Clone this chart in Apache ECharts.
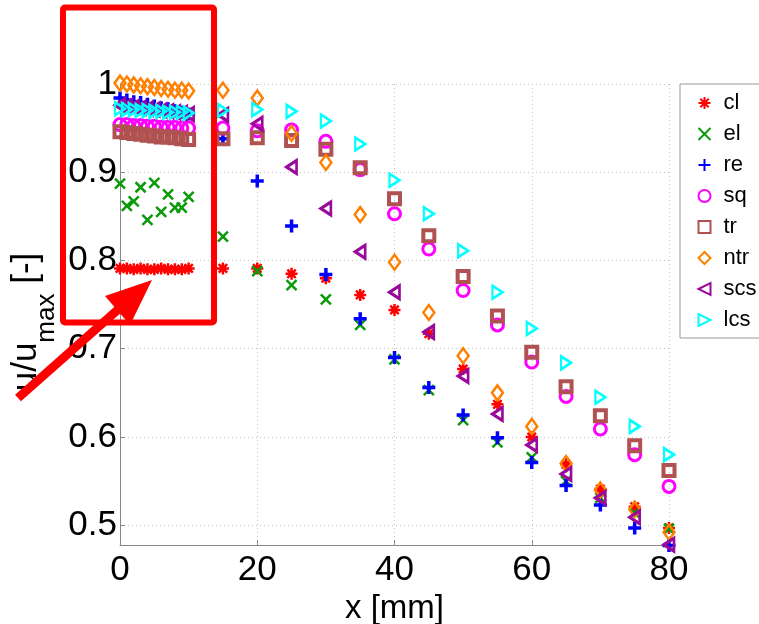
<!DOCTYPE html>
<html>
<head>
<meta charset="utf-8">
<script src="https://cdn.jsdelivr.net/npm/echarts@6/dist/echarts.min.js"></script>
<style>
    html, body { margin: 0; padding: 0; background: #fff; }
    #main { width: 759px; height: 624px; }
</style>
</head>
<body>
<div id="main"></div>
<script>
// x positions [mm]
var xs = [0, 1, 2, 3, 4, 5, 6, 7, 8, 9, 10, 15, 20, 25, 30, 35, 40, 45, 50, 55, 60, 65, 70, 75, 80];

// u/umax per profile
var cl  = [0.791, 0.791, 0.790, 0.791, 0.790, 0.790, 0.791, 0.790, 0.790, 0.790, 0.791, 0.791, 0.791, 0.785, 0.780, 0.761, 0.744, 0.717, 0.677, 0.637, 0.600, 0.569, 0.541, 0.521, 0.497];
var el  = [0.887, 0.862, 0.867, 0.883, 0.846, 0.888, 0.855, 0.875, 0.860, 0.860, 0.872, 0.827, 0.788, 0.772, 0.756, 0.727, 0.688, 0.653, 0.619, 0.594, 0.577, 0.550, 0.531, 0.514, 0.496];
var re  = [0.984, 0.982, 0.980, 0.979, 0.977, 0.975, 0.973, 0.972, 0.970, 0.968, 0.966, 0.938, 0.890, 0.839, 0.784, 0.734, 0.690, 0.656, 0.625, 0.599, 0.571, 0.545, 0.523, 0.497, 0.477];
var sq  = [0.954, 0.954, 0.953, 0.953, 0.952, 0.952, 0.951, 0.951, 0.951, 0.950, 0.950, 0.950, 0.947, 0.948, 0.935, 0.903, 0.853, 0.813, 0.766, 0.727, 0.685, 0.646, 0.609, 0.580, 0.544];
var tr  = [0.946, 0.945, 0.944, 0.943, 0.942, 0.941, 0.940, 0.940, 0.939, 0.938, 0.937, 0.938, 0.939, 0.936, 0.926, 0.905, 0.870, 0.828, 0.782, 0.737, 0.696, 0.657, 0.624, 0.590, 0.562];
var ntr = [1.001, 1.000, 0.999, 0.998, 0.997, 0.996, 0.995, 0.994, 0.993, 0.993, 0.992, 0.993, 0.984, 0.944, 0.911, 0.852, 0.798, 0.741, 0.692, 0.650, 0.612, 0.570, 0.540, 0.518, 0.492];
var scs = [0.976, 0.975, 0.974, 0.973, 0.972, 0.971, 0.970, 0.969, 0.968, 0.967, 0.966, 0.965, 0.955, 0.906, 0.859, 0.810, 0.764, 0.719, 0.669, 0.626, 0.591, 0.558, 0.531, 0.509, 0.478];
var lcs = [0.972, 0.971, 0.971, 0.970, 0.970, 0.969, 0.969, 0.968, 0.968, 0.968, 0.967, 0.970, 0.971, 0.969, 0.958, 0.932, 0.891, 0.853, 0.811, 0.764, 0.723, 0.684, 0.645, 0.612, 0.580];

var yTicks = [0.5, 0.6, 0.7, 0.8, 0.9, 1];

var FONT = 'Liberation Sans, Arial, sans-serif';

// marker shapes (matlab style)
var SYM_STAR  = 'path://M0,5L10,5M5,0L5,10M1.5,1.5L8.5,8.5M1.5,8.5L8.5,1.5';
var SYM_X     = 'path://M0,0L10,10M0,10L10,0';
var SYM_PLUS  = 'path://M5,0L5,10M0,5L10,5';
var SYM_TRI_L = 'path://M0,5L10,0L10,10Z';
var SYM_TRI_R = 'path://M10,5L0,0L0,10Z';

function mk(name, vals, symbol, size, color, bw) {
    return {
        name: name,
        type: 'scatter',
        clip: false,
        symbol: symbol,
        symbolSize: size,
        itemStyle: { color: 'none', borderColor: color, borderWidth: bw, opacity: 1 },
        emphasis: { disabled: true },
        data: xs.map(function (x, i) { return [x, vals[i]]; })
    };
}

var series = [
    mk('cl',  cl,  SYM_STAR,  12, '#ff0000', 2.5),
    mk('el',  el,  SYM_X,     10, '#0a9a0a', 2.5),
    mk('re',  re,  SYM_PLUS,  13, '#0000ff', 3.5),
    mk('sq',  sq,  'circle',  12, '#ff00ff', 3),
    mk('tr',  tr,  'rect',    11, '#b05252', 4),
    mk('ntr', ntr, 'diamond', [11, 15], '#ff8000', 2.5),
    mk('scs', scs, SYM_TRI_L, [10, 13], '#9a0a9a', 3),
    mk('lcs', lcs, SYM_TRI_R, [10, 13], '#00ffff', 2.5)
];

// y axis title u/u_max [-] built from pieces (rotated)
var ctx = document.createElement('canvas').getContext('2d');
function tw(t, fs) { ctx.font = fs + 'px ' + FONT; return ctx.measureText(t).width; }
var fMain = 35, fSub = 26;
var w1 = tw('u/u', fMain), w2 = tw('max', fSub), w3 = tw(' [-]', fMain);
var W = w1 + w2 + w3;

var chart = echarts.init(document.getElementById('main'));
var option = {
    animation: false,
    backgroundColor: '#fff',
    textStyle: { fontFamily: FONT },
    grid: { left: 120, right: 90, top: 84, bottom: 79, outerBoundsMode: 'none' },
    xAxis: {
        type: 'value',
        min: 0, max: 80, interval: 20,
        name: 'x [mm]',
        nameLocation: 'middle',
        nameGap: 45,
        nameTextStyle: { fontSize: 33, color: '#000' },
        axisLine: { show: true, lineStyle: { color: '#888', width: 1 } },
        axisTick: { show: true, inside: true, length: 5, lineStyle: { color: '#888' } },
        axisLabel: { fontSize: 35, color: '#000', margin: 8 },
        splitLine: { show: true, lineStyle: { color: '#c4c4c4', type: [1, 3], width: 1 } }
    },
    yAxis: {
        type: 'value',
        min: 0.4776, max: 1,
        axisLine: { show: true, lineStyle: { color: '#888', width: 1 } },
        axisTick: { show: true, inside: true, length: 5, lineStyle: { color: '#888' }, customValues: yTicks },
        axisLabel: { fontSize: 35, color: '#000', margin: 3, customValues: yTicks },
        splitLine: { show: true, lineStyle: { color: '#c4c4c4', type: [1, 3], width: 1 } }
    },
    legend: {
        orient: 'vertical',
        left: 680, top: 84,
        padding: [8, 30, 7, 16],
        itemWidth: 12, itemHeight: 12,
        itemGap: 9,
        backgroundColor: '#fff',
        borderColor: '#999', borderWidth: 1,
        textStyle: { fontSize: 22, color: '#000', padding: [0, 0, 0, 8] },
        data: ['cl', 'el', 're', 'sq', 'tr', 'ntr', 'scs', 'lcs']
    },
    graphic: [
        {
            type: 'group', x: 9, y: 322, rotation: Math.PI / 2, z: 50,
            children: [
                { type: 'text', x: -W / 2, y: 0, style: { text: 'u/u', font: fMain + 'px ' + FONT, fill: '#000', verticalAlign: 'top' } },
                { type: 'text', x: -W / 2 + w1, y: 25, style: { text: 'max', font: fSub + 'px ' + FONT, fill: '#000', verticalAlign: 'top' } },
                { type: 'text', x: -W / 2 + w1 + w2, y: 0, style: { text: ' [-]', font: fMain + 'px ' + FONT, fill: '#000', verticalAlign: 'top' } }
            ]
        },
        // zoom box over the dense near-wall points
        {
            type: 'rect', z: 100,
            shape: { x: 63, y: 7.5, width: 151, height: 315, r: 2 },
            style: { fill: 'none', stroke: '#ff0000', lineWidth: 6 }
        },
        // arrow
        {
            type: 'line', z: 100,
            shape: { x1: 18, y1: 398, x2: 122, y2: 306 },
            style: { stroke: '#ff0000', lineWidth: 9 }
        },
        {
            type: 'polygon', z: 100,
            shape: { points: [[152, 280], [105, 296], [130, 325]] },
            style: { fill: '#ff0000' }
        }
    ],
    series: series
};
chart.setOption(option);
</script>
</body>
</html>
